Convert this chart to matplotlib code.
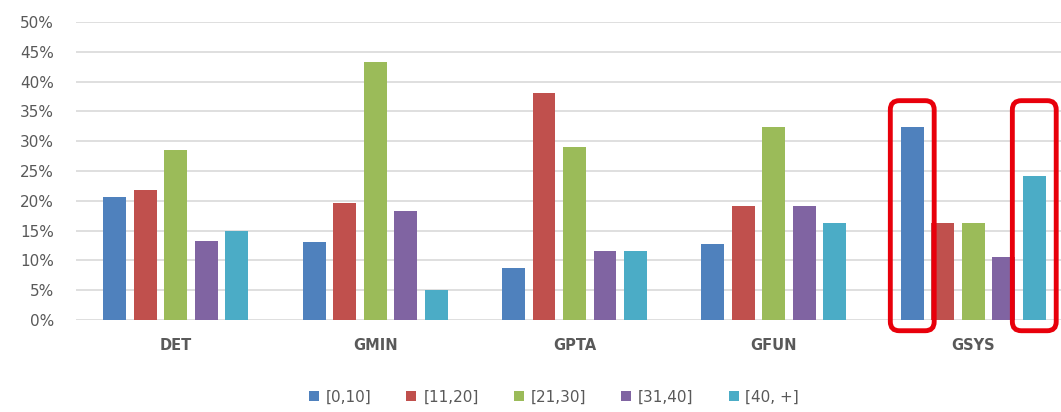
import matplotlib.pyplot as plt
import numpy as np
from matplotlib.patches import FancyBboxPatch
from matplotlib.ticker import PercentFormatter

categories = ["DET", "GMIN", "GPTA", "GFUN", "GSYS"]
series_labels = ["[0,10]", "[11,20]", "[21,30]", "[31,40]", "[40, +]"]
s_0_10 = [20.7, 13.1, 8.8, 12.8, 32.3]
s_11_20 = [21.8, 19.6, 38.1, 19.2, 16.2]
s_21_30 = [28.5, 43.3, 29.1, 32.3, 16.2]
s_31_40 = [13.3, 18.3, 11.5, 19.2, 10.6]
s_40_plus = [15.0, 5.0, 11.5, 16.2, 24.2]
yticks = [0, 5, 10, 15, 20, 25, 30, 35, 40, 45, 50]

series = [s_0_10, s_11_20, s_21_30, s_31_40, s_40_plus]
colors = ["#4F81BD", "#C0504D", "#9BBB59", "#8064A2", "#4BACC6"]
text_gray = '#595959'

plt.rcParams['font.family'] = ['DejaVu Sans']

fig = plt.figure(figsize=(10.61, 4.12), dpi=100)
ax = fig.add_axes([76 / 1061, 92 / 412, 1 - 76 / 1061, 298 / 412])

x = np.arange(len(categories))
width = 0.115
step = 0.153
for i, (vals, c, lab) in enumerate(zip(series, colors, series_labels)):
    ax.bar(x + (i - 2) * step, vals, width=width, color=c, label=lab, zorder=3)

ax.set_xlim(-0.5, 4.44)
ax.set_ylim(0, 50)
ax.set_yticks(yticks)
ax.yaxis.set_major_formatter(PercentFormatter(decimals=0))
ax.grid(axis='y', color='#D9D9D9', linewidth=1.2, zorder=0)
for s in ax.spines.values():
    s.set_visible(False)
ax.tick_params(axis='both', length=0, labelcolor=text_gray)
ax.tick_params(axis='y', pad=16, labelsize=11)
ax.set_xticks(x)
ax.set_xticklabels(categories, fontsize=10.5, color=text_gray, fontweight='bold')
ax.tick_params(axis='x', pad=13)

# highlight boxes around two GSYS bars
for si in (0, 4):
    cx = x[4] + (si - 2) * step
    box = FancyBboxPatch((cx - 0.11, -1.8), 0.22, 38.6,
                         boxstyle="round,pad=0,rounding_size=0.045",
                         mutation_aspect=33.5,
                         fill=False, edgecolor='#E8000B', linewidth=3.5,
                         zorder=5, clip_on=False)
    ax.add_patch(box)

fig.legend(loc='center', bbox_to_anchor=(554 / 1061, 1 - 397 / 412), ncol=5,
           frameon=False, handlelength=0.65, handleheight=0.65,
           handletextpad=0.45, columnspacing=2.3, fontsize=11,
           labelcolor=text_gray)

fig.savefig("out.png", dpi=100)
